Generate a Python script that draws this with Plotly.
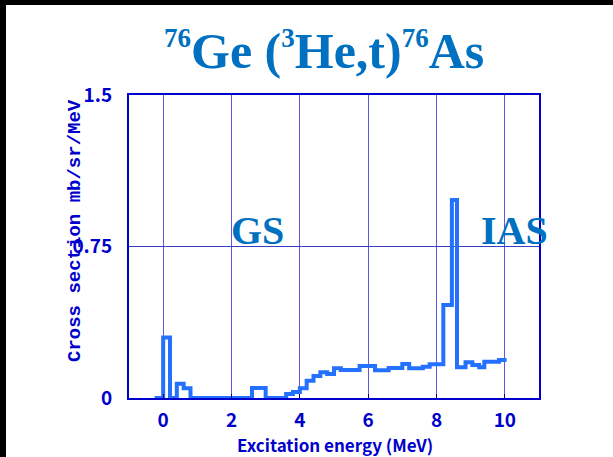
import plotly.graph_objects as go

# Bin edges (MeV) and cross sections (mb/sr/MeV) of the step spectrum
bin_edges = [-0.25, 0.0, 0.2, 0.4, 0.6, 0.8, 2.6, 3.0, 3.6, 3.8, 4.0, 4.2, 4.4,
             4.6, 4.8, 5.0, 5.2, 5.75, 6.2, 6.6, 7.0, 7.2, 7.6, 7.8, 8.2, 8.45,
             8.6, 8.85, 9.05, 9.25, 9.4, 9.83, 10.05]
cross_section = [0.0, 0.30, 0.0, 0.07, 0.048, 0.0, 0.05, 0.0, 0.02, 0.03, 0.048,
                 0.086, 0.109, 0.127, 0.119, 0.147, 0.139, 0.158, 0.137, 0.148,
                 0.168, 0.147, 0.155, 0.167, 0.46, 0.98, 0.152, 0.177, 0.163,
                 0.152, 0.18, 0.188]
x_ticks = [0, 2, 4, 6, 8, 10]
y_ticks = [0, 0.75, 1.5]
y_tick_text = ["0", "0.75", "1.5"]

W, H = 613, 457
L, R, T, B = 129, 74, 95, 59
PW, PH = W - L - R, H - T - B

AXIS_BLUE = "#0000cc"
TITLE_BLUE = "#0070c0"
gothic = "Noto Sans CJK JP, Liberation Sans, sans-serif"
serif = "Liberation Serif, Times New Roman, serif"


def px_x(px):
    return (px - L) / PW


def px_y(py):
    return (H - B - py) / PH


fig = go.Figure()
fig.add_trace(go.Scatter(
    x=bin_edges,
    y=cross_section + [cross_section[-1]],
    mode="lines",
    line=dict(shape="hv", color="#2470ff", width=4),
    hoverinfo="skip",
    showlegend=False,
))

sup = "<sup><span style='font-size:27px'>{}</span></sup>"
title = sup.format("76") + "Ge (" + sup.format("3") + "He,t)" + sup.format("76") + "As"

fig.update_layout(
    width=W, height=H,
    margin=dict(l=L, r=R, t=T, b=B, pad=0),
    paper_bgcolor="white", plot_bgcolor="white",
    showlegend=False,
    xaxis=dict(
        range=[-1, 11], tickvals=x_ticks, ticktext=[str(v) for v in x_ticks],
        showgrid=True, gridcolor="#5a5ae0", gridwidth=1, zeroline=False,
        showline=True, linecolor=AXIS_BLUE, linewidth=2, mirror=True,
        ticks="inside", ticklen=4, tickcolor="#000088", tickwidth=1,
        tickfont=dict(family=gothic, size=19, color=AXIS_BLUE, weight="bold"),
        ticklabelstandoff=4,
    ),
    yaxis=dict(
        range=[0, 1.5], tickvals=y_ticks, ticktext=y_tick_text,
        showgrid=True, gridcolor="#3a3ac8", gridwidth=1, zeroline=False,
        showline=True, linecolor=AXIS_BLUE, linewidth=2, mirror=True,
        ticks="", tickfont=dict(family=gothic, size=19, color=AXIS_BLUE, weight="bold"),
        ticklabelstandoff=11,
    ),
    annotations=[
        dict(text=title, xref="paper", yref="paper", x=px_x(324), y=px_y(51),
             xanchor="center", yanchor="middle", showarrow=False,
             font=dict(family=serif, size=50, color=TITLE_BLUE, weight="bold")),
        dict(text="GS", xref="x", yref="y", x=2.76, y=0.827,
             xanchor="center", yanchor="middle", showarrow=False,
             font=dict(family=serif, size=40, color=TITLE_BLUE, weight="bold")),
        dict(text="IAS", xref="x", yref="y", x=10.29, y=0.827,
             xanchor="center", yanchor="middle", showarrow=False,
             font=dict(family=serif, size=40, color=TITLE_BLUE, weight="bold")),
        dict(text="Excitation energy (MeV)", xref="paper", yref="paper",
             x=px_x(335), y=px_y(444), xanchor="center", yanchor="middle",
             showarrow=False,
             font=dict(family=gothic, size=17, color=AXIS_BLUE, weight="bold")),
        dict(text="Cross section mb/sr/MeV", xref="paper", yref="paper",
             x=px_x(75), y=px_y(231), xanchor="center", yanchor="middle",
             textangle=-90, showarrow=False,
             font=dict(family="Liberation Mono, DejaVu Sans Mono, monospace", size=19,
                       color=AXIS_BLUE, weight="bold")),
    ],
    shapes=[
        # dark border strips along the top and left edges of the page
        dict(type="rect", xref="paper", yref="paper", layer="above",
             x0=px_x(0), x1=px_x(W), y0=px_y(5), y1=px_y(0),
             fillcolor="black", line=dict(width=0)),
        dict(type="rect", xref="paper", yref="paper", layer="above",
             x0=px_x(0), x1=px_x(6), y0=px_y(H), y1=px_y(0),
             fillcolor="black", line=dict(width=0)),
    ],
)

fig.write_html("out.html")
